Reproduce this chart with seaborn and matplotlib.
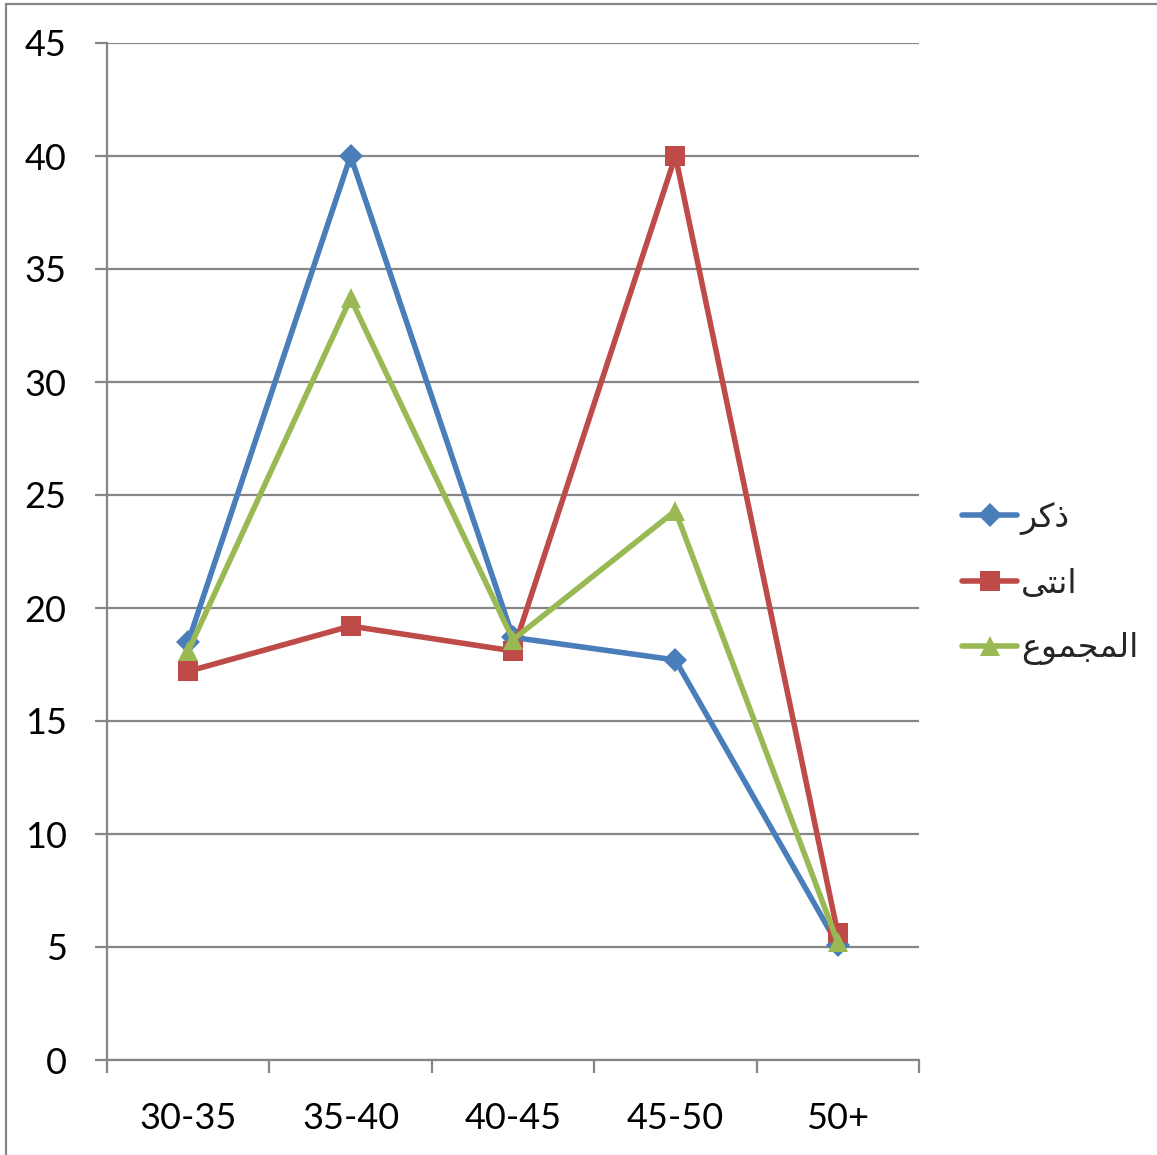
import matplotlib
matplotlib.use("Agg")
import matplotlib.pyplot as plt
import seaborn as sns
import pandas as pd
from matplotlib.patches import Rectangle
from matplotlib.ticker import FixedLocator

# Age groups and percentages per group
categories = ["30-35", "35-40", "40-45", "45-50", "50+"]
male = [18.5, 40.0, 18.7, 17.7, 5.1]
female = [17.2, 19.2, 18.1, 40.0, 5.6]
total = [18.1, 33.7, 18.6, 24.3, 5.2]

# Series names (Arabic, written as shaped presentation forms in visual order)
name_male = "\uFEAE\uFEDB\uFEAB"                                 # ذكر
name_female = "\uFEF0\uFE98\uFEE7\uFE8D"                         # انثى
name_total = "\uFEC9\uFEEE\uFEE4\uFEA0\uFEE4\uFEDF\uFE8D"        # المجموع

yticks = [0, 5, 10, 15, 20, 25, 30, 35, 40, 45]

sns.set_theme(style="white")
plt.rcParams["font.family"] = ["Lato", "DejaVu Sans"]

df = pd.DataFrame({
    "age": categories * 3,
    "value": male + female + total,
    "series": [name_male] * 5 + [name_female] * 5 + [name_total] * 5,
})

palette = {name_male: "#4A7EBB", name_female: "#BE4B48", name_total: "#98B954"}
markers = {name_male: "D", name_female: "s", name_total: "^"}
sizes = {name_male: 12.5, name_female: 14, name_total: 15}

fig = plt.figure(figsize=(11.57, 11.55), dpi=100)
ax = fig.add_axes([107 / 1157, 1 - 1060 / 1155, (919 - 107) / 1157, (1060 - 43) / 1155])

for name in [name_male, name_female, name_total]:
    sub = df[df["series"] == name]
    sns.lineplot(data=sub, x="age", y="value", ax=ax, color=palette[name],
                 marker=markers[name], markersize=sizes[name],
                 markeredgewidth=0, linewidth=4.0, label=name, sort=False)

ax.set_xlim(-0.5, 4.5)
ax.set_ylim(0, 45)
ax.set_yticks(yticks)
ax.set_xlabel("")
ax.set_ylabel("")

grid_color = "#868686"
ax.yaxis.grid(True, color=grid_color, linewidth=1.6)
ax.xaxis.grid(False)
ax.set_axisbelow(True)
for side in ["top", "right"]:
    ax.spines[side].set_visible(False)
for side in ["left", "bottom"]:
    ax.spines[side].set_color(grid_color)
    ax.spines[side].set_linewidth(1.6)

ax.xaxis.set_minor_locator(FixedLocator([i - 0.5 for i in range(6)]))
ax.tick_params(axis="x", which="major", length=0, pad=30, labelsize=26, labelcolor="black")
ax.tick_params(axis="x", which="minor", bottom=True, length=9, width=1.6, color=grid_color, direction="out")
ax.tick_params(axis="y", which="major", left=True, length=9, width=1.6, color=grid_color,
               direction="out", pad=20, labelsize=26, labelcolor="black")

leg = ax.legend(loc="center left", bbox_to_anchor=(1.037, 0.469), frameon=False,
                prop={"family": ["DejaVu Sans"], "size": 24},
                handlelength=1.65, handletextpad=0.1, labelspacing=0.95, borderaxespad=0)

# Outer chart border
fig.patches.append(Rectangle((6 / 1157, -0.01), 1.1, 1 - 4 / 1155 + 0.01,
                             transform=fig.transFigure, fill=False,
                             edgecolor=grid_color, linewidth=1.6))

fig.savefig("out.png", dpi=100)
